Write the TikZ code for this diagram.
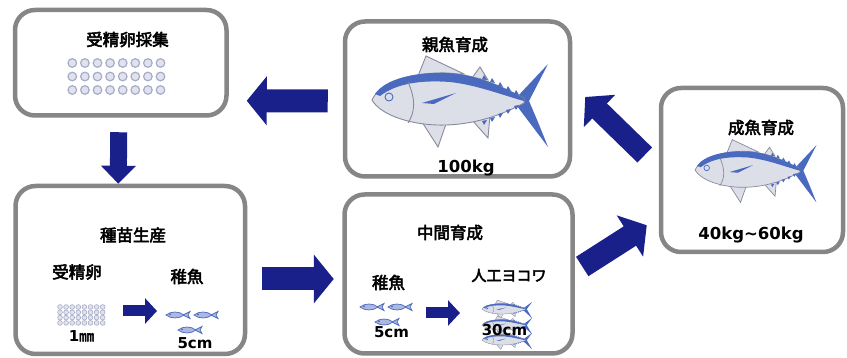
\documentclass[tikz,border=0pt]{standalone}
\usepackage{fontspec}
\setmainfont{DejaVu Sans}
\newfontfamily\jp{Noto Sans CJK JP}[AutoFakeBold=3.2]
\usetikzlibrary{arrows.meta}

\definecolor{boxgray}{RGB}{134,134,134}
\definecolor{navy}{RGB}{26,32,138}
\definecolor{tunablue}{RGB}{74,106,192}
\definecolor{tunabody}{RGB}{220,222,232}
\definecolor{tunaline}{RGB}{136,138,156}
\definecolor{fryfill}{RGB}{172,184,224}
\definecolor{eggline}{RGB}{166,172,200}
\definecolor{eggfill}{RGB}{224,227,238}

\tikzset{
  tuna/.pic={
    \filldraw[fill=tunabody, draw=tunaline] (46,-24) -- (54,-44) -- (92,-26) -- cycle;
    \filldraw[fill=tunabody, draw=tunaline] (100,-22) -- (108,-33) -- (116,-20) -- cycle;
    \filldraw[fill=tunabody, draw=tunaline] (50,22) -- (66,47) -- (74,24) -- cycle;
    \filldraw[fill=tunabody, draw=tunaline] (100,20) -- (116,38) -- (118,15) -- cycle;
    % tail
    \fill[tunablue] (145,-3) -- (176,-36) .. controls (166,-18) .. (157,1)
      .. controls (166,22) .. (176,47) -- (145,6) -- cycle;
    % body and back
    \filldraw[fill=tunabody, draw=tunaline] (0,0) .. controls (8,-18) and (40,-28) .. (75,-27)
      .. controls (110,-25) and (135,-10) .. (152,-2) -- (152,3)
      .. controls (130,15) and (100,26) .. (65,25) .. controls (35,24) and (8,14) .. cycle;
    \fill[tunablue] (3,-6) .. controls (14,-22) and (45,-28) .. (75,-27)
      .. controls (110,-25) and (135,-10) .. (152,-2) -- (152,1)
      .. controls (130,-5) and (105,-15) .. (78,-18) .. controls (50,-20) and (25,-17) .. (8,-4) -- cycle;
    \foreach \x/\y in {110/-21,118/-18,126/-14,134/-10,142/-6}
      \fill[tunablue] (\x,\y) -- (\x+2,\y-4) -- (\x+5,\y+1) -- cycle;
    \foreach \x/\y in {110/21,118/18,126/14,134/10,142/6}
      \fill[tunablue] (\x,\y) -- (\x+2,\y+4) -- (\x+5,\y-1) -- cycle;
    \draw[tunaline] (36,-18) .. controls (44,0) and (43,12) .. (36,23);
    \fill[tunablue] (50,3) -- (84,-7) -- (62,4) -- cycle;
    \filldraw[fill=tunabody, draw=tunablue] (17,-3) circle[radius=4pt];
  },
  fry/.pic={
    \filldraw[fill=fryfill, draw=tunablue, line width=.7pt] (0,0) .. controls (5,-4) and (13,-4) .. (18,0)
      .. controls (13,4) and (5,4) .. cycle;
    \filldraw[fill=fryfill, draw=tunablue, line width=.7pt] (17,0) -- (24,-3.5) -- (22,0) -- (24,3.5) -- cycle;
    \fill[tunablue] (4,-.6) circle[radius=1pt];
  }
}

\begin{document}
\begin{tikzpicture}[x=1pt, y=-1pt,
  stagebox/.style={draw=boxgray, line width=4.5pt, rounded corners=20pt, fill=white, inner sep=0pt},
  title/.style={font=\jp\bfseries\fontsize{16.5}{18}\selectfont, inner sep=0pt},
  size/.style={font=\bfseries\fontsize{16.5}{18}\selectfont, inner sep=0pt},
  small/.style={font=\bfseries\fontsize{15}{16}\selectfont, inner sep=0pt},
  bigarrow/.style={navy, line width=23pt, -{Triangle[length=20pt,width=48pt]}},
  downarrow/.style={navy, line width=17pt, -{Triangle[length=18pt,width=34pt]}},
  smallarrow/.style={navy, line width=11pt, -{Triangle[length=12pt,width=25pt]}},
  egg/.style={draw=eggline, fill=eggfill, line width=1.2pt}]

\useasboundingbox (0,0) rectangle (847,358);

% stages
\node[stagebox, minimum width=211.5pt, minimum height=105.5pt] (saishu) at (120.75,62.75) {};
\node[stagebox, minimum width=225pt, minimum height=155pt] (oya) at (457.5,99) {};
\node[stagebox, minimum width=182pt, minimum height=164pt] (seigyo) at (752,170) {};
\node[stagebox, minimum width=229.5pt, minimum height=168pt] (shubyo) at (130.25,270) {};
\node[stagebox, minimum width=228pt, minimum height=159pt] (chukan) at (458.5,274) {};

% 受精卵採集
\node[title] (t1) at (127.5,39.5) {受精卵採集};
\foreach \i in {0,...,7}
  \foreach \j in {0,1,2}
    \draw[egg] (72.3+12.6*\i,63+13.5*\j) circle[radius=4.3pt];

% 親魚育成
\node[title] (t2) at (455,44.5) {親魚育成};
\pic[line width=.9pt] at (372,100) {tuna};
\node[size] (w2) at (466,168) {100kg};

% 成魚育成
\node[title] (t3) at (761,127.5) {成魚育成};
\pic[scale=.69, line width=.7pt] at (695,170) {tuna};
\node[size] (w3) at (751,235.5) {40kg\textasciitilde60kg};

% 種苗生産
\node[title] (t4) at (133,235) {種苗生産};
\node[title] (egg4) at (77,272) {受精卵};
\node[title] (fry4) at (187,276.5) {稚魚};
\foreach \i in {0,...,7}
  \foreach \j in {0,...,3}
    \draw[egg, line width=.6pt] (60+6.1*\i,307+5.3*\j) circle[radius=2.4pt];
\coordinate (e4) at (123,311);
\coordinate (f4) at (157,311);
\draw[smallarrow] (e4) -- (f4);
\pic at (166,315) {fry};
\pic at (194,315) {fry};
\pic at (178,330) {fry};
\node[small] (s4a) at (81.5,336) {1{\jp ㎜}};
\node[small] (s4b) at (195,343.5) {5cm};

% 中間育成
\node[title] (t5) at (450,232.5) {中間育成};
\node[title] (fry5) at (388.5,282.5) {稚魚};
\node[title, font=\jp\bfseries\fontsize{15}{16}\selectfont] (yokowa) at (509,275.5) {人工ヨコワ};
\pic at (360,307) {fry};
\pic at (388,307) {fry};
\pic at (375,322) {fry};
\coordinate (f5) at (426,313);
\coordinate (y5) at (460,313);
\draw[smallarrow] (f5) -- (y5);
\foreach \y in {309,325,340}
  \pic[xscale=.285, yscale=.2, line width=.35pt] at (482,\y) {tuna};
\node[small] (s5a) at (391.5,332.5) {5cm};
\node[small] (s5b) at (504.5,330.5) {30cm};

% flow between stages
\draw[bigarrow] ([shift={(-15,2)}]oya.west) -- ([shift={(18,38)}]saishu.east);
\draw[downarrow] ([shift={(-2,14.5)}]saishu.south) -- ([shift={(-12,0)}]shubyo.north);
\draw[bigarrow] ([shift={(15,9)}]shubyo.east) -- ([shift={(-8.5,5)}]chukan.west);
\draw[bigarrow] ([shift={(7.5,-7.5)}]chukan.east) -- ([shift={(-12,-29)}]seigyo.south west);
\draw[bigarrow, line width=21pt, -{Triangle[length=20pt,width=44pt]}] ([shift={(-14,-15)}]seigyo.west) -- ([shift={(13,-2)}]oya.east);

\end{tikzpicture}
\end{document}
